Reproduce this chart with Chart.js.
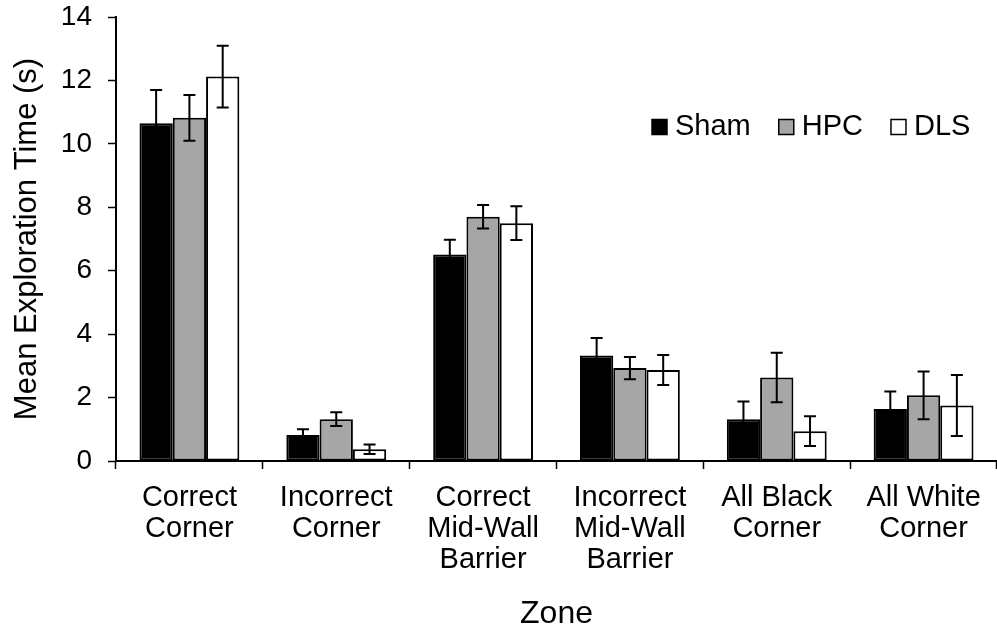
<!DOCTYPE html>
<html>
<head>
<meta charset="utf-8">
<script src="https://cdn.jsdelivr.net/npm/chart.js@4/dist/chart.umd.min.js"></script>
<style>
  html, body { margin: 0; padding: 0; background: #ffffff; }
  canvas { display: block; }
</style>
</head>
<body>
<canvas id="chart" width="997" height="629"></canvas>
<script>
// Zones of the arena (multi-line category labels)
const categories = [
  ['Correct', 'Corner'],
  ['Incorrect', 'Corner'],
  ['Correct', 'Mid-Wall', 'Barrier'],
  ['Incorrect', 'Mid-Wall', 'Barrier'],
  ['All Black', 'Corner'],
  ['All White', 'Corner']
];

// Mean exploration time (s) per group, with SEM
const shamValues = [10.65, 0.82, 6.51, 3.33, 1.32, 1.64];
const shamErrors = [1.05, 0.18, 0.47, 0.55, 0.56, 0.55];
const hpcValues  = [10.82, 1.32, 7.70, 2.93, 2.63, 2.07];
const hpcErrors  = [0.72, 0.22, 0.37, 0.35, 0.78, 0.75];
const dlsValues  = [12.12, 0.37, 7.50, 2.87, 0.94, 1.75];
const dlsErrors  = [0.97, 0.15, 0.53, 0.47, 0.47, 0.96];

const yTicks = [0, 2, 4, 6, 8, 10, 12, 14];

const FONT = "'Liberation Sans', Arial, Helvetica, sans-serif";

// Draws symmetric error bars with caps on every bar
const errorBars = {
  id: 'errorBars',
  afterDatasetsDraw(chart) {
    const ctx = chart.ctx;
    const y = chart.scales.y;
    ctx.save();
    ctx.strokeStyle = '#000000';
    ctx.lineWidth = 2;
    chart.data.datasets.forEach((ds, i) => {
      const meta = chart.getDatasetMeta(i);
      meta.data.forEach((bar, j) => {
        const v = ds.data[j];
        const e = ds.errors[j];
        const top = y.getPixelForValue(v + e);
        const bot = y.getPixelForValue(v - e);
        const cap = 6;
        ctx.beginPath();
        ctx.moveTo(bar.x, top);
        ctx.lineTo(bar.x, bot);
        ctx.moveTo(bar.x - cap, top);
        ctx.lineTo(bar.x + cap, top);
        ctx.moveTo(bar.x - cap, bot);
        ctx.lineTo(bar.x + cap, bot);
        ctx.stroke();
      });
    });
    ctx.restore();
  }
};

// Horizontal legend placed inside the plot, upper right
const insideLegend = {
  id: 'insideLegend',
  afterDraw(chart) {
    const ctx = chart.ctx;
    ctx.save();
    ctx.font = '29px ' + FONT;
    ctx.textBaseline = 'middle';
    ctx.textAlign = 'left';
    let x = 652;
    const cy = 127;
    const box = 15;
    chart.data.datasets.forEach((ds) => {
      ctx.fillStyle = ds.backgroundColor;
      ctx.fillRect(x, cy - box / 2, box, box);
      ctx.strokeStyle = '#000000';
      ctx.lineWidth = 1.5;
      ctx.strokeRect(x, cy - box / 2, box, box);
      const tx = x + box + 8;
      ctx.fillStyle = '#000000';
      ctx.fillText(ds.label, tx, cy);
      x = tx + ctx.measureText(ds.label).width + 28;
    });
    ctx.restore();
  }
};

const barStyle = { borderColor: '#000000', borderWidth: 2, borderSkipped: false };

new Chart(document.getElementById('chart'), {
  type: 'bar',
  data: {
    labels: categories,
    datasets: [
      Object.assign({ label: 'Sham', data: shamValues, errors: shamErrors, backgroundColor: '#000000' }, barStyle),
      Object.assign({ label: 'HPC', data: hpcValues, errors: hpcErrors, backgroundColor: '#a6a6a6' }, barStyle),
      Object.assign({ label: 'DLS', data: dlsValues, errors: dlsErrors, backgroundColor: '#ffffff' }, barStyle)
    ]
  },
  options: {
    responsive: false,
    animation: false,
    categoryPercentage: 0.68,
    barPercentage: 1.0,
    layout: { padding: { top: 17, right: 0, bottom: 0, left: 0 } },
    plugins: {
      legend: { display: false },
      tooltip: { enabled: false }
    },
    scales: {
      x: {
        grid: {
          offset: true,
          drawOnChartArea: false,
          drawTicks: true,
          tickLength: 8,
          tickColor: '#000000',
          tickWidth: 1.5
        },
        border: { color: '#000000', width: 2 },
        ticks: {
          color: '#000000',
          font: { family: FONT, size: 29, lineHeight: 1.07 },
          maxRotation: 0,
          autoSkip: false,
          padding: 13
        },
        title: {
          display: true,
          text: 'Zone',
          color: '#000000',
          font: { family: FONT, size: 32, lineHeight: 0.9 },
          padding: { top: 0, bottom: 0 }
        },
        afterFit(scale) {
          scale.height = 168;
          scale.paddingLeft = 0;
          scale.paddingRight = 0;
        }
      },
      y: {
        min: 0,
        max: 14,
        afterBuildTicks(scale) { scale.ticks = yTicks.map(v => ({ value: v })); },
        grid: {
          drawOnChartArea: false,
          drawTicks: true,
          tickLength: 8,
          tickColor: '#000000',
          tickWidth: 1.5
        },
        border: { color: '#000000', width: 2 },
        ticks: {
          color: '#000000',
          font: { family: FONT, size: 28 },
          padding: 16
        },
        title: {
          display: true,
          text: 'Mean Exploration Time (s)',
          color: '#000000',
          font: { family: FONT, size: 31, lineHeight: 1.2 },
          padding: { top: 9, bottom: 0 }
        },
        afterFit(scale) {
          scale.width = 116;
          scale.paddingTop = 0;
          scale.paddingBottom = 0;
        }
      }
    }
  },
  plugins: [errorBars, insideLegend]
});
</script>
</body>
</html>
